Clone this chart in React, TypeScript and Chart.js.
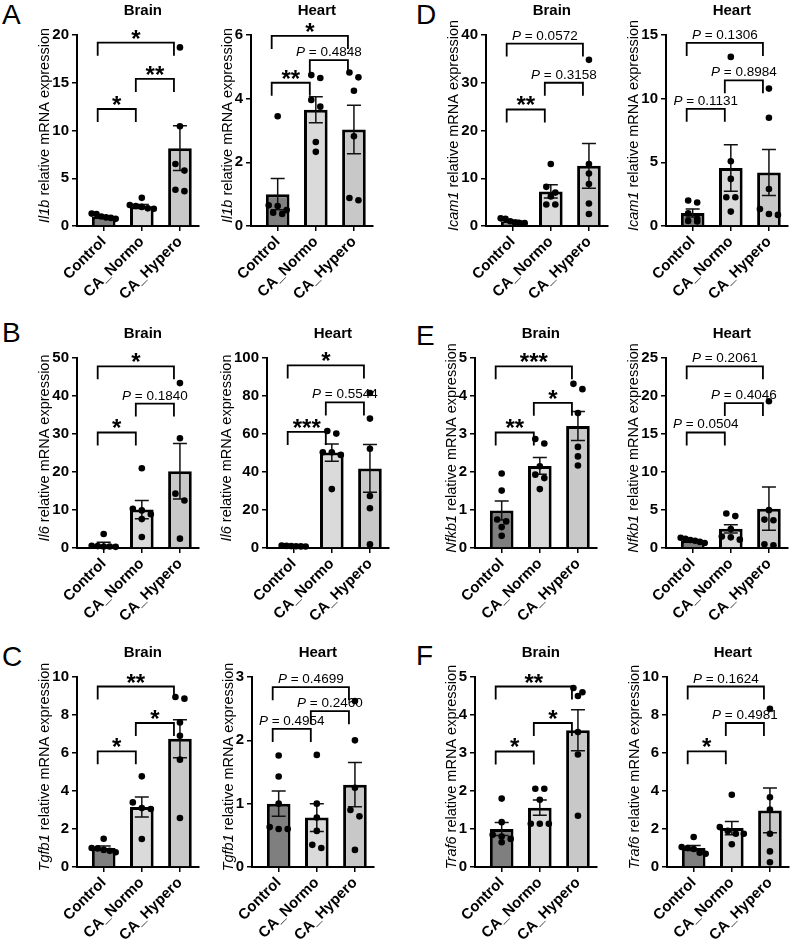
import React, { useEffect, useRef } from "react";
import { Chart, registerables } from "chart.js";
Chart.register(...registerables);

const FONT = "'Liberation Sans', Arial, Helvetica, sans-serif";
const groups = ["Control", "CA_Normo", "CA_Hypero"];
const barColors = ["#7f7f7f", "#dadada", "#c8c8c8"];

// ---- A: Il1b ----
const il1bBrainMean = [1.0, 2.05, 8.15];
const il1bBrainSem = [0.08, 0.2, 2.35];
const il1bBrainPts = [[1.3, 1.25, 1.0, 0.85, 0.75, 0.9], [2.95, 2.2, 2.1, 2.0, 1.85, 1.8], [18.7, 10.45, 6.5, 5.8, 3.8, 3.65]];
const il1bBrainBr: [number, number, number, string][] = [[0, 2, 19.2, "*"], [1, 2, 15.4, "**"], [0, 1, 12.25, "*"]];

const il1bHeartMean = [1.0, 3.65, 3.03];
const il1bHeartSem = [0.49, 0.41, 0.76];
const il1bHeartPts = [[3.45, 0.65, 0.63, 0.5, 0.42, 0.38], [4.74, 4.65, 3.96, 3.75, 2.64, 2.33], [4.82, 4.67, 4.25, 2.82, 0.88, 0.81]];
const il1bHeartBr: [number, number, number, string][] = [[0, 2, 5.97, "*"], [1, 2, 5.21, "P = 0.4848"], [0, 1, 4.5, "**"]];

// ---- D: Icam1 ----
const icam1BrainMean = [1.0, 7.25, 12.6];
const icam1BrainSem = [0.2, 1.4, 4.7];
const icam1BrainPts = [[1.6, 1.5, 1.0, 0.7, 0.6, 0.6], [13.0, 8.2, 7.0, 6.2, 4.5, 4.5], [34.8, 13.0, 11.0, 8.8, 4.7, 2.5]];
const icam1BrainBr: [number, number, number, string][] = [[0, 2, 38.2, "P = 0.0572"], [1, 2, 30.0, "P = 0.3158"], [0, 1, 24.4, "**"]];

const icam1HeartMean = [1.02, 4.55, 4.2];
const icam1HeartSem = [0.32, 1.83, 1.8];
const icam1HeartPts = [[2.0, 1.85, 1.0, 0.55, 0.4, 0.35], [13.28, 5.09, 3.7, 2.26, 2.26, 1.13], [10.79, 8.5, 2.91, 1.34, 0.94, 0.87]];
const icam1HeartBr: [number, number, number, string][] = [[0, 2, 14.38, "P = 0.1306"], [1, 2, 11.44, "P = 0.8984"], [0, 1, 9.2, "P = 0.1131"]];

// ---- B: Il6 ----
const il6BrainMean = [0.95, 10.1, 20.2];
const il6BrainSem = [0.55, 2.4, 7.3];
const il6BrainPts = [[3.7, 0.6, 0.5, 0.4, 0.4, 0.3], [21.0, 10.3, 9.9, 8.9, 7.6, 2.9], [43.4, 28.9, 14.3, 12.5, 2.46]];
const il6BrainBr: [number, number, number, string][] = [[0, 2, 47.8, "*"], [1, 2, 38.0, "P = 0.1840"], [0, 1, 30.4, "*"]];

const il6HeartMean = [1.0, 50.2, 41.9];
const il6HeartSem = [0.1, 4.6, 12.6];
const il6HeartPts = [[1.3, 1.1, 1.0, 0.95, 0.85, 0.8], [61.6, 60.2, 50.4, 50.4, 49.0, 31.0], [81.6, 68.1, 52.2, 27.4, 20.9, 1.9]];
const il6HeartBr: [number, number, number, string][] = [[0, 2, 96.1, "*"], [1, 2, 76.6, "P = 0.5544"], [0, 1, 61.1, "***"]];

// ---- E: Nfkb1 ----
const nfkb1BrainMean = [0.99, 2.16, 3.21];
const nfkb1BrainSem = [0.25, 0.22, 0.38];
const nfkb1BrainPts = [[1.96, 1.51, 0.75, 0.7, 0.55, 0.32], [2.87, 2.75, 2.15, 1.93, 1.84, 1.55], [4.32, 4.18, 3.55, 2.66, 2.41, 2.17]];
const nfkb1BrainBr: [number, number, number, string][] = [[0, 2, 4.78, "***"], [1, 2, 3.82, "*"], [0, 1, 3.04, "**"]];

const nfkb1HeartMean = [1.0, 2.52, 5.17];
const nfkb1HeartSem = [0.1, 0.55, 2.85];
const nfkb1HeartPts = [[1.35, 1.2, 1.05, 0.95, 0.8, 0.65], [4.54, 4.2, 2.5, 1.5, 1.4, 1.1], [19.3, 4.98, 3.74, 3.66, 0.48, 0.35]];
const nfkb1HeartBr: [number, number, number, string][] = [[0, 2, 23.9, "P = 0.2061"], [1, 2, 19.07, "P = 0.4046"], [0, 1, 15.2, "P = 0.0504"]];

// ---- C: Tgfb1 ----
const tgfb1BrainMean = [1.0, 3.16, 6.75];
const tgfb1BrainSem = [0.1, 0.53, 1.0];
const tgfb1BrainPts = [[1.49, 1.0, 0.98, 0.9, 0.85, 0.78], [4.77, 3.4, 3.1, 3.05, 1.47], [8.95, 8.86, 7.61, 6.91, 5.65, 2.58]];
const tgfb1BrainBr: [number, number, number, string][] = [[0, 2, 9.5, "**"], [1, 2, 7.58, "*"], [0, 1, 6.09, "*"]];

const tgfb1HeartMean = [1.0, 0.78, 1.3];
const tgfb1HeartSem = [0.2, 0.22, 0.35];
const tgfb1HeartPts = [[1.76, 1.43, 1.0, 0.63, 0.6, 0.6], [1.77, 1.0, 0.78, 0.57, 0.35, 0.3], [2.62, 2.0, 1.25, 0.9, 0.8, 0.27]];
const tgfb1HeartBr: [number, number, number, string][] = [[0, 2, 2.84, "P = 0.4699"], [1, 2, 2.46, "P = 0.2460"], [0, 1, 2.18, "P = 0.4954"]];

// ---- F: Traf6 ----
const traf6BrainMean = [1.0, 1.56, 3.6];
const traf6BrainSem = [0.17, 0.2, 0.54];
const traf6BrainPts = [[1.8, 1.18, 0.85, 0.8, 0.74, 0.65], [2.06, 2.06, 1.77, 1.14, 1.14, 1.14], [4.71, 4.6, 4.5, 3.55, 2.96, 1.35]];
const traf6BrainBr: [number, number, number, string][] = [[0, 2, 4.75, "**"], [1, 2, 3.79, "*"], [0, 1, 3.04, "*"]];

const traf6HeartMean = [1.0, 2.05, 2.98];
const traf6HeartSem = [0.13, 0.35, 1.18];
const traf6HeartPts = [[1.58, 1.05, 1.0, 0.95, 0.75, 0.7], [3.8, 2.1, 1.9, 1.75, 1.75, 1.2], [8.33, 3.67, 3.02, 1.75, 0.82, 0.25]];
const traf6HeartBr: [number, number, number, string][] = [[0, 2, 9.5, "P = 0.1624"], [1, 2, 7.58, "P = 0.4981"], [0, 1, 6.09, "*"]];

type Panel = {
  gene: string; tissue: string; axisX: number; top: number; zero: number;
  yMax: number; step: number; mean: number[]; sem: number[]; pts: number[][];
  br: [number, number, number, string][];
};

const panels: Panel[] = [
  { gene: "Il1b", tissue: "Brain", axisX: 77, top: 35, zero: 226, yMax: 20, step: 5, mean: il1bBrainMean, sem: il1bBrainSem, pts: il1bBrainPts, br: il1bBrainBr },
  { gene: "Il1b", tissue: "Heart", axisX: 251, top: 35, zero: 226, yMax: 6, step: 2, mean: il1bHeartMean, sem: il1bHeartSem, pts: il1bHeartPts, br: il1bHeartBr },
  { gene: "Icam1", tissue: "Brain", axisX: 486, top: 35, zero: 226, yMax: 40, step: 10, mean: icam1BrainMean, sem: icam1BrainSem, pts: icam1BrainPts, br: icam1BrainBr },
  { gene: "Icam1", tissue: "Heart", axisX: 666, top: 35, zero: 226, yMax: 15, step: 5, mean: icam1HeartMean, sem: icam1HeartSem, pts: icam1HeartPts, br: icam1HeartBr },
  { gene: "Il6", tissue: "Brain", axisX: 77, top: 358, zero: 548, yMax: 50, step: 10, mean: il6BrainMean, sem: il6BrainSem, pts: il6BrainPts, br: il6BrainBr },
  { gene: "Il6", tissue: "Heart", axisX: 267, top: 358, zero: 548, yMax: 100, step: 20, mean: il6HeartMean, sem: il6HeartSem, pts: il6HeartPts, br: il6HeartBr },
  { gene: "Nfkb1", tissue: "Brain", axisX: 475, top: 358, zero: 548, yMax: 5, step: 1, mean: nfkb1BrainMean, sem: nfkb1BrainSem, pts: nfkb1BrainPts, br: nfkb1BrainBr },
  { gene: "Nfkb1", tissue: "Heart", axisX: 666, top: 358, zero: 548, yMax: 25, step: 5, mean: nfkb1HeartMean, sem: nfkb1HeartSem, pts: nfkb1HeartPts, br: nfkb1HeartBr },
  { gene: "Tgfb1", tissue: "Brain", axisX: 77, top: 677, zero: 867, yMax: 10, step: 2, mean: tgfb1BrainMean, sem: tgfb1BrainSem, pts: tgfb1BrainPts, br: tgfb1BrainBr },
  { gene: "Tgfb1", tissue: "Heart", axisX: 252, top: 677, zero: 867, yMax: 3, step: 1, mean: tgfb1HeartMean, sem: tgfb1HeartSem, pts: tgfb1HeartPts, br: tgfb1HeartBr },
  { gene: "Traf6", tissue: "Brain", axisX: 475, top: 677, zero: 867, yMax: 5, step: 1, mean: traf6BrainMean, sem: traf6BrainSem, pts: traf6BrainPts, br: traf6BrainBr },
  { gene: "Traf6", tissue: "Heart", axisX: 667, top: 677, zero: 867, yMax: 10, step: 2, mean: traf6HeartMean, sem: traf6HeartSem, pts: traf6HeartPts, br: traf6HeartBr },
];

const letters = [
  { t: "A", x: 2, base: 25 }, { t: "D", x: 416, base: 25 },
  { t: "B", x: 2, base: 343 }, { t: "E", x: 416, base: 346 },
  { t: "C", x: 2, base: 667 }, { t: "F", x: 416, base: 666 },
];

const PLOT_W = 122;
const X_MIN = -0.7;
const X_MAX = 2.5;
const AXIS_W = 75;
const PAD_TOP = 45;
const X_AXIS_H = 90;
const PAD_RIGHT = 12;
const BAND = PLOT_W / (X_MAX - X_MIN);

function swarm(vals: number[], yMax: number, plotH: number): number[] {
  const d = 7;
  const pxPerY = plotH / yMax;
  const idx = vals.map((_, i) => i).sort((a, b) => vals[b] - vals[a]);
  const offs = new Array(vals.length).fill(0);
  let row: number[] = [];
  const flush = () => {
    const n = row.length;
    const sp = n > 1 ? Math.min(9, 24 / (n - 1)) : 0;
    row.forEach((k, j) => { offs[k] = (j - (n - 1) / 2) * sp; });
    row = [];
  };
  for (const k of idx) {
    if (row.length && (vals[row[0]] - vals[k]) * pxPerY > d) flush();
    row.push(k);
  }
  flush();
  return offs;
}

function makePlugin(p: Panel) {
  return {
    id: "decor",
    afterDatasetDraw(chart: any, args: any) {
      if (args.index !== 0) return;
      const ctx = chart.ctx;
      const xs = chart.scales.x, ys = chart.scales.y;
      ctx.save();
      ctx.strokeStyle = "#111";
      ctx.lineWidth = 1.5;
      p.mean.forEach((m, i) => {
        const x = xs.getPixelForValue(i);
        const yt = ys.getPixelForValue(m + p.sem[i]);
        const yb = ys.getPixelForValue(Math.max(0, m - p.sem[i]));
        ctx.beginPath();
        ctx.moveTo(x, yt); ctx.lineTo(x, yb);
        ctx.moveTo(x - 7, yt); ctx.lineTo(x + 7, yt);
        ctx.moveTo(x - 7, yb); ctx.lineTo(x + 7, yb);
        ctx.stroke();
      });
      ctx.restore();
    },
    afterDraw(chart: any) {
      const ctx = chart.ctx;
      const xs = chart.scales.x, ys = chart.scales.y;
      const ca = chart.chartArea;
      ctx.save();
      ctx.fillStyle = "#000";
      // panel title
      ctx.font = `bold 15px ${FONT}`;
      ctx.textAlign = "center";
      ctx.textBaseline = "alphabetic";
      ctx.fillText(p.tissue, xs.getPixelForValue(1) + 1, ca.top - 20);
      // y title
      ctx.font = `bold 15px ${FONT}`;
      const maxW = Math.max(...ys.ticks.map((t: any) => ctx.measureText(String(t.label)).width));
      const tx = ca.left - 5 - 3 - maxW - 7;
      const ty = (ca.top + ca.bottom) / 2 - 5;
      ctx.translate(tx, ty);
      ctx.rotate(-Math.PI / 2);
      ctx.textBaseline = "middle";
      ctx.textAlign = "left";
      const f1 = `italic 14.5px ${FONT}`, f2 = `14.5px ${FONT}`;
      const rest = " relative mRNA expression";
      ctx.font = f1; const w1 = ctx.measureText(p.gene).width;
      ctx.font = f2; const w2 = ctx.measureText(rest).width;
      const sx = -(w1 + w2) / 2;
      ctx.font = f1; ctx.fillText(p.gene, sx, 0);
      ctx.font = f2; ctx.fillText(rest, sx + w1, 0);
      ctx.setTransform(1, 0, 0, 1, 0, 0);
      // brackets
      ctx.strokeStyle = "#000";
      ctx.lineWidth = 1.8;
      p.br.forEach(([a, b, v, label]) => {
        const x1 = xs.getPixelForValue(a) - 6;
        const x2 = xs.getPixelForValue(b) - 6;
        const y = ys.getPixelForValue(v);
        ctx.beginPath();
        ctx.moveTo(x1, y + 13); ctx.lineTo(x1, y); ctx.lineTo(x2, y); ctx.lineTo(x2, y + 13);
        ctx.stroke();
        const cx = (x1 + x2) / 2;
        ctx.textBaseline = "alphabetic";
        if (label.startsWith("P")) {
          const r = label.slice(1);
          const fp = `italic 13.5px ${FONT}`, fr = `13.5px ${FONT}`;
          ctx.font = fp; const wp = ctx.measureText("P").width;
          ctx.font = fr; const wr = ctx.measureText(r).width;
          const s = cx - (wp + wr) / 2;
          ctx.textAlign = "left";
          ctx.font = fp; ctx.fillText("P", s, y - 4);
          ctx.font = fr; ctx.fillText(r, s + wp, y - 4);
        } else {
          ctx.textAlign = "center";
          ctx.font = `bold 24px ${FONT}`;
          ctx.fillText(label, cx, y + 4);
        }
      });
      ctx.restore();
    },
  };
}

function PanelChart({ p }: { p: Panel }) {
  const ref = useRef<HTMLCanvasElement | null>(null);
  const plotH = p.zero - p.top;
  const W = AXIS_W + PLOT_W + PAD_RIGHT;
  const H = PAD_TOP + plotH + X_AXIS_H;
  useEffect(() => {
    if (!ref.current) return;
    const pts: { x: number; y: number }[] = [];
    p.pts.forEach((vals, i) => {
      const offs = swarm(vals, p.yMax, plotH);
      vals.forEach((v, k) => pts.push({ x: i + offs[k] / BAND, y: v }));
    });
    const tickFont = { family: FONT, size: 15, weight: "bold" as const };
    const chart = new Chart(ref.current, {
      type: "bar",
      data: {
        datasets: [
          {
            type: "bar",
            data: p.mean.map((m, i) => ({ x: i, y: m })) as any,
            backgroundColor: barColors,
            borderColor: "#000",
            borderWidth: 3,
            barPercentage: 0.62,
            categoryPercentage: 1,
            order: 2,
            clip: false as any,
          },
          {
            type: "scatter",
            data: pts as any,
            backgroundColor: "#000",
            borderWidth: 0,
            pointRadius: 3.3,
            order: 1,
            clip: false as any,
          } as any,
        ],
      },
      options: {
        animation: false,
        responsive: false,
        maintainAspectRatio: false,
        layout: { padding: { top: PAD_TOP, right: PAD_RIGHT, left: 0, bottom: 0 } },
        plugins: { legend: { display: false }, tooltip: { enabled: false }, title: { display: false } },
        scales: {
          x: {
            type: "linear",
            offset: false,
            bounds: "data",
            min: X_MIN,
            max: X_MAX,
            afterBuildTicks: (s: any) => { s.ticks = [0, 1, 2].map((v) => ({ value: v })); },
            afterFit: (s: any) => { s.height = X_AXIS_H; },
            ticks: {
              autoSkip: false, minRotation: 45, maxRotation: 45, color: "#000",
              font: tickFont, padding: 2,
              callback: (v: any) => groups[Math.round(Number(v))] ?? "",
            },
            grid: { offset: false, drawOnChartArea: false, drawTicks: true, tickLength: 5, color: "#000", lineWidth: 1.5 },
            border: { display: true, color: "#000", width: 2 },
          },
          y: {
            type: "linear",
            min: 0,
            max: p.yMax,
            afterFit: (s: any) => { s.width = AXIS_W; },
            ticks: { stepSize: p.step, color: "#000", font: tickFont, padding: 3 },
            grid: { drawOnChartArea: false, drawTicks: true, tickLength: 5, color: "#000", lineWidth: 1.5 },
            border: { display: true, color: "#000", width: 2 },
          },
        },
      } as any,
      plugins: [makePlugin(p) as any],
    });
    return () => chart.destroy();
  }, [p]);
  return (
    <canvas
      ref={ref}
      width={W}
      height={H}
      style={{ position: "absolute", left: p.axisX - AXIS_W, top: p.top - PAD_TOP, width: W, height: H }}
    />
  );
}

export default function App() {
  return (
    <div style={{ position: "absolute", left: 0, top: 0, width: 794, height: 939, background: "#fff", overflow: "hidden" }}>
      {letters.map((l) => (
        <div
          key={l.t}
          style={{ position: "absolute", left: l.x, top: l.base - 23.7, fontFamily: FONT, fontSize: 28, lineHeight: "28px", color: "#000" }}
        >
          {l.t}
        </div>
      ))}
      {panels.map((p, i) => <PanelChart key={i} p={p} />)}
    </div>
  );
}
